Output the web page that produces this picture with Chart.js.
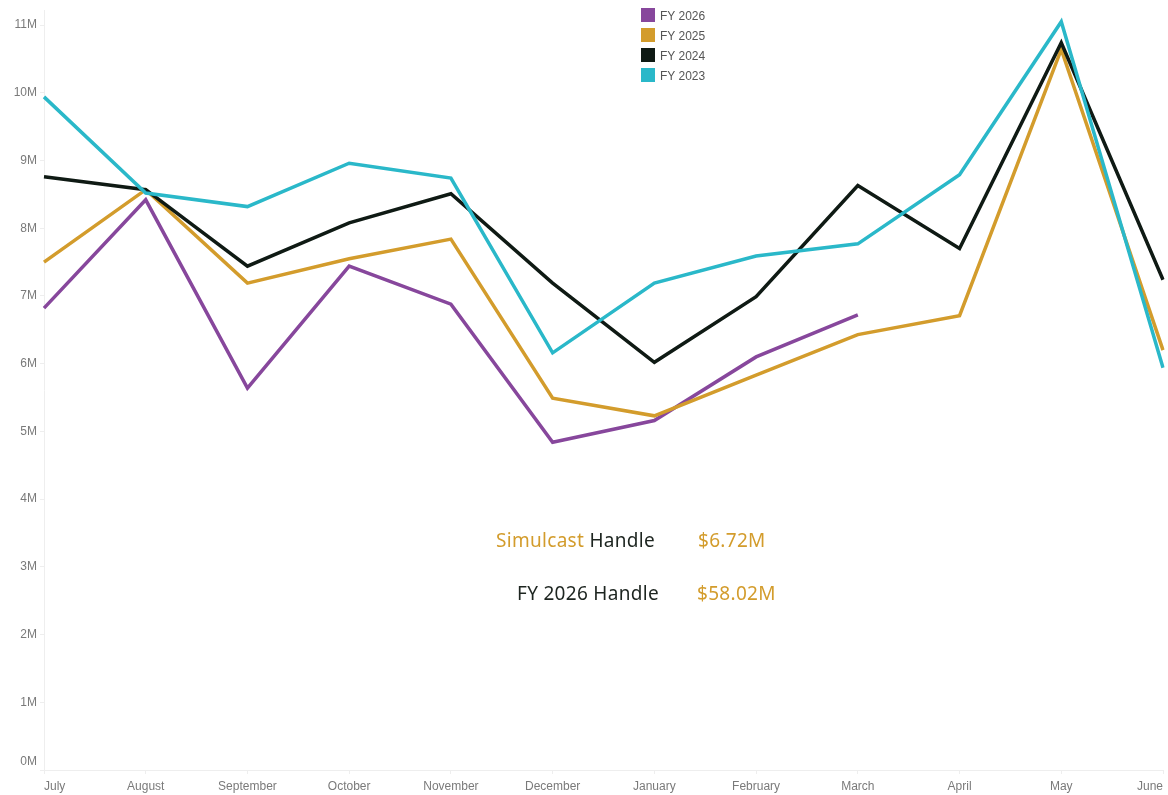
<!DOCTYPE html>
<html>
  <head>
    <title>Handle by month</title>
    <meta charset="UTF-8" />
    <style>
      body { margin: 0; background: #fff; }
      #app { position: relative; width: 1168px; height: 795px; }
      #legend { position: absolute; left: 641px; top: 6px; font: 12px "Liberation Sans", Arial, sans-serif; color: #555; }
      #legend div { height: 20px; line-height: 20px; }
      #legend span { display: inline-block; width: 14px; height: 14px; vertical-align: -2px; margin-right: 5px; }
      .note { position: absolute; font: 19px "Noto Sans", sans-serif; letter-spacing: 0.3px; color: #1d2520; white-space: nowrap; }
      .gold { color: #d39c2c; }
    </style>
  </head>

  <body>
    <div id="app">
      <canvas id="myChart" width="1168" height="795"></canvas>
      <div id="legend"></div>
      <div class="note" style="left:496px; top:527px;"><span class="gold">Simulcast</span> Handle</div>
      <div class="note gold" id="lastVal" style="left:698px; top:527px;"></div>
      <div class="note" style="left:517px; top:580px;">FY 2026 Handle</div>
      <div class="note gold" id="totalVal" style="left:697px; top:580px;"></div>
    </div>
<script src="https://cdn.jsdelivr.net/npm/chart.js@4"></script>
<script>

// values in millions
var months = ['July', 'August', 'September', 'October', 'November', 'December', 'January', 'February', 'March', 'April', 'May', 'June'];
var fy2026 = [6.82, 8.42, 5.64, 7.44, 6.88, 4.84, 5.16, 6.10, 6.72];
var fy2025 = [7.50, 8.57, 7.19, 7.55, 7.84, 5.49, 5.23, 5.83, 6.43, 6.71, 10.64, 6.20];
var fy2024 = [8.76, 8.57, 7.44, 8.08, 8.51, 7.19, 6.02, 6.99, 8.63, 7.70, 10.74, 7.24];
var fy2023 = [9.94, 8.52, 8.32, 8.96, 8.74, 6.16, 7.19, 7.59, 7.77, 8.79, 11.05, 5.94];
var yTicks = [0, 1, 2, 3, 4, 5, 6, 7, 8, 9, 10, 11];

var series = [
  {label: 'FY 2026', data: fy2026, color: '#87479c'},
  {label: 'FY 2025', data: fy2025, color: '#d39c2c'},
  {label: 'FY 2024', data: fy2024, color: '#0f1a14'},
  {label: 'FY 2023', data: fy2023, color: '#2ab8c9'}
];

// legend
var legend = document.getElementById('legend');
series.forEach(function(s) {
  var row = document.createElement('div');
  row.innerHTML = '<span style="background:' + s.color + '"></span>' + s.label;
  legend.appendChild(row);
});

// the two figures in the middle
var total = fy2026.reduce(function(a, b) { return a + b; }, 0);
document.getElementById('lastVal').textContent = '$' + fy2026[fy2026.length - 1].toFixed(2) + 'M';
document.getElementById('totalVal').textContent = '$' + total.toFixed(2) + 'M';

var axisFont = {family: '"Liberation Sans", Arial, sans-serif', size: 12};

// 0M label sits a bit above the axis line, like the original
var zeroLabel = {
  id: 'zeroLabel',
  afterDraw: function(chart) {
    var y = chart.scales.y;
    var ctx = chart.ctx;
    ctx.save();
    ctx.font = '12px "Liberation Sans", Arial, sans-serif';
    ctx.fillStyle = '#7a7a7a';
    ctx.textAlign = 'right';
    ctx.textBaseline = 'middle';
    ctx.fillText('0M', y.right - 7, y.getPixelForValue(0) - 8);
    ctx.restore();
  }
};

var config = {
  type: 'line',
  data: {
    labels: months,
    // draw order: FY 2023 at the bottom, FY 2026 on top
    datasets: series.slice().reverse().map(function(s) {
      return {
        label: s.label,
        data: s.data,
        borderColor: s.color,
        backgroundColor: s.color,
        borderWidth: 3.5,
        pointRadius: 0,
        tension: 0,
        fill: false
      };
    })
  },
  options: {
    responsive: false,
    animation: false,
    layout: { padding: { right: -1, top: 0 } },
    plugins: { legend: { display: false }, tooltip: { enabled: false } },
    scales: {
      x: {
        offset: false,
        grid: { drawOnChartArea: false, drawTicks: true, tickLength: 4, color: '#eeeeee' },
        border: { color: '#eeeeee' },
        ticks: { align: 'inner', maxRotation: 0, autoSkip: false, padding: 5, color: '#7a7a7a', font: axisFont },
        afterFit: function(scale) { scale.height = 25; }
      },
      y: {
        min: 0,
        max: 11.22,
        afterBuildTicks: function(scale) {
          scale.ticks = yTicks.map(function(v) { return {value: v}; });
        },
        grid: { drawOnChartArea: false, drawTicks: true, tickLength: 4, color: '#eeeeee' },
        border: { color: '#eeeeee' },
        ticks: {
          padding: 3,
          color: '#7a7a7a',
          font: axisFont,
          callback: function(v) { return v === 0 ? '' : v + 'M'; }
        },
        afterFit: function(scale) { scale.width = 44; }
      }
    }
  },
  plugins: [zeroLabel]
};

var myChart = new Chart(document.getElementById('myChart'), config);
</script>

</body>
</html>
